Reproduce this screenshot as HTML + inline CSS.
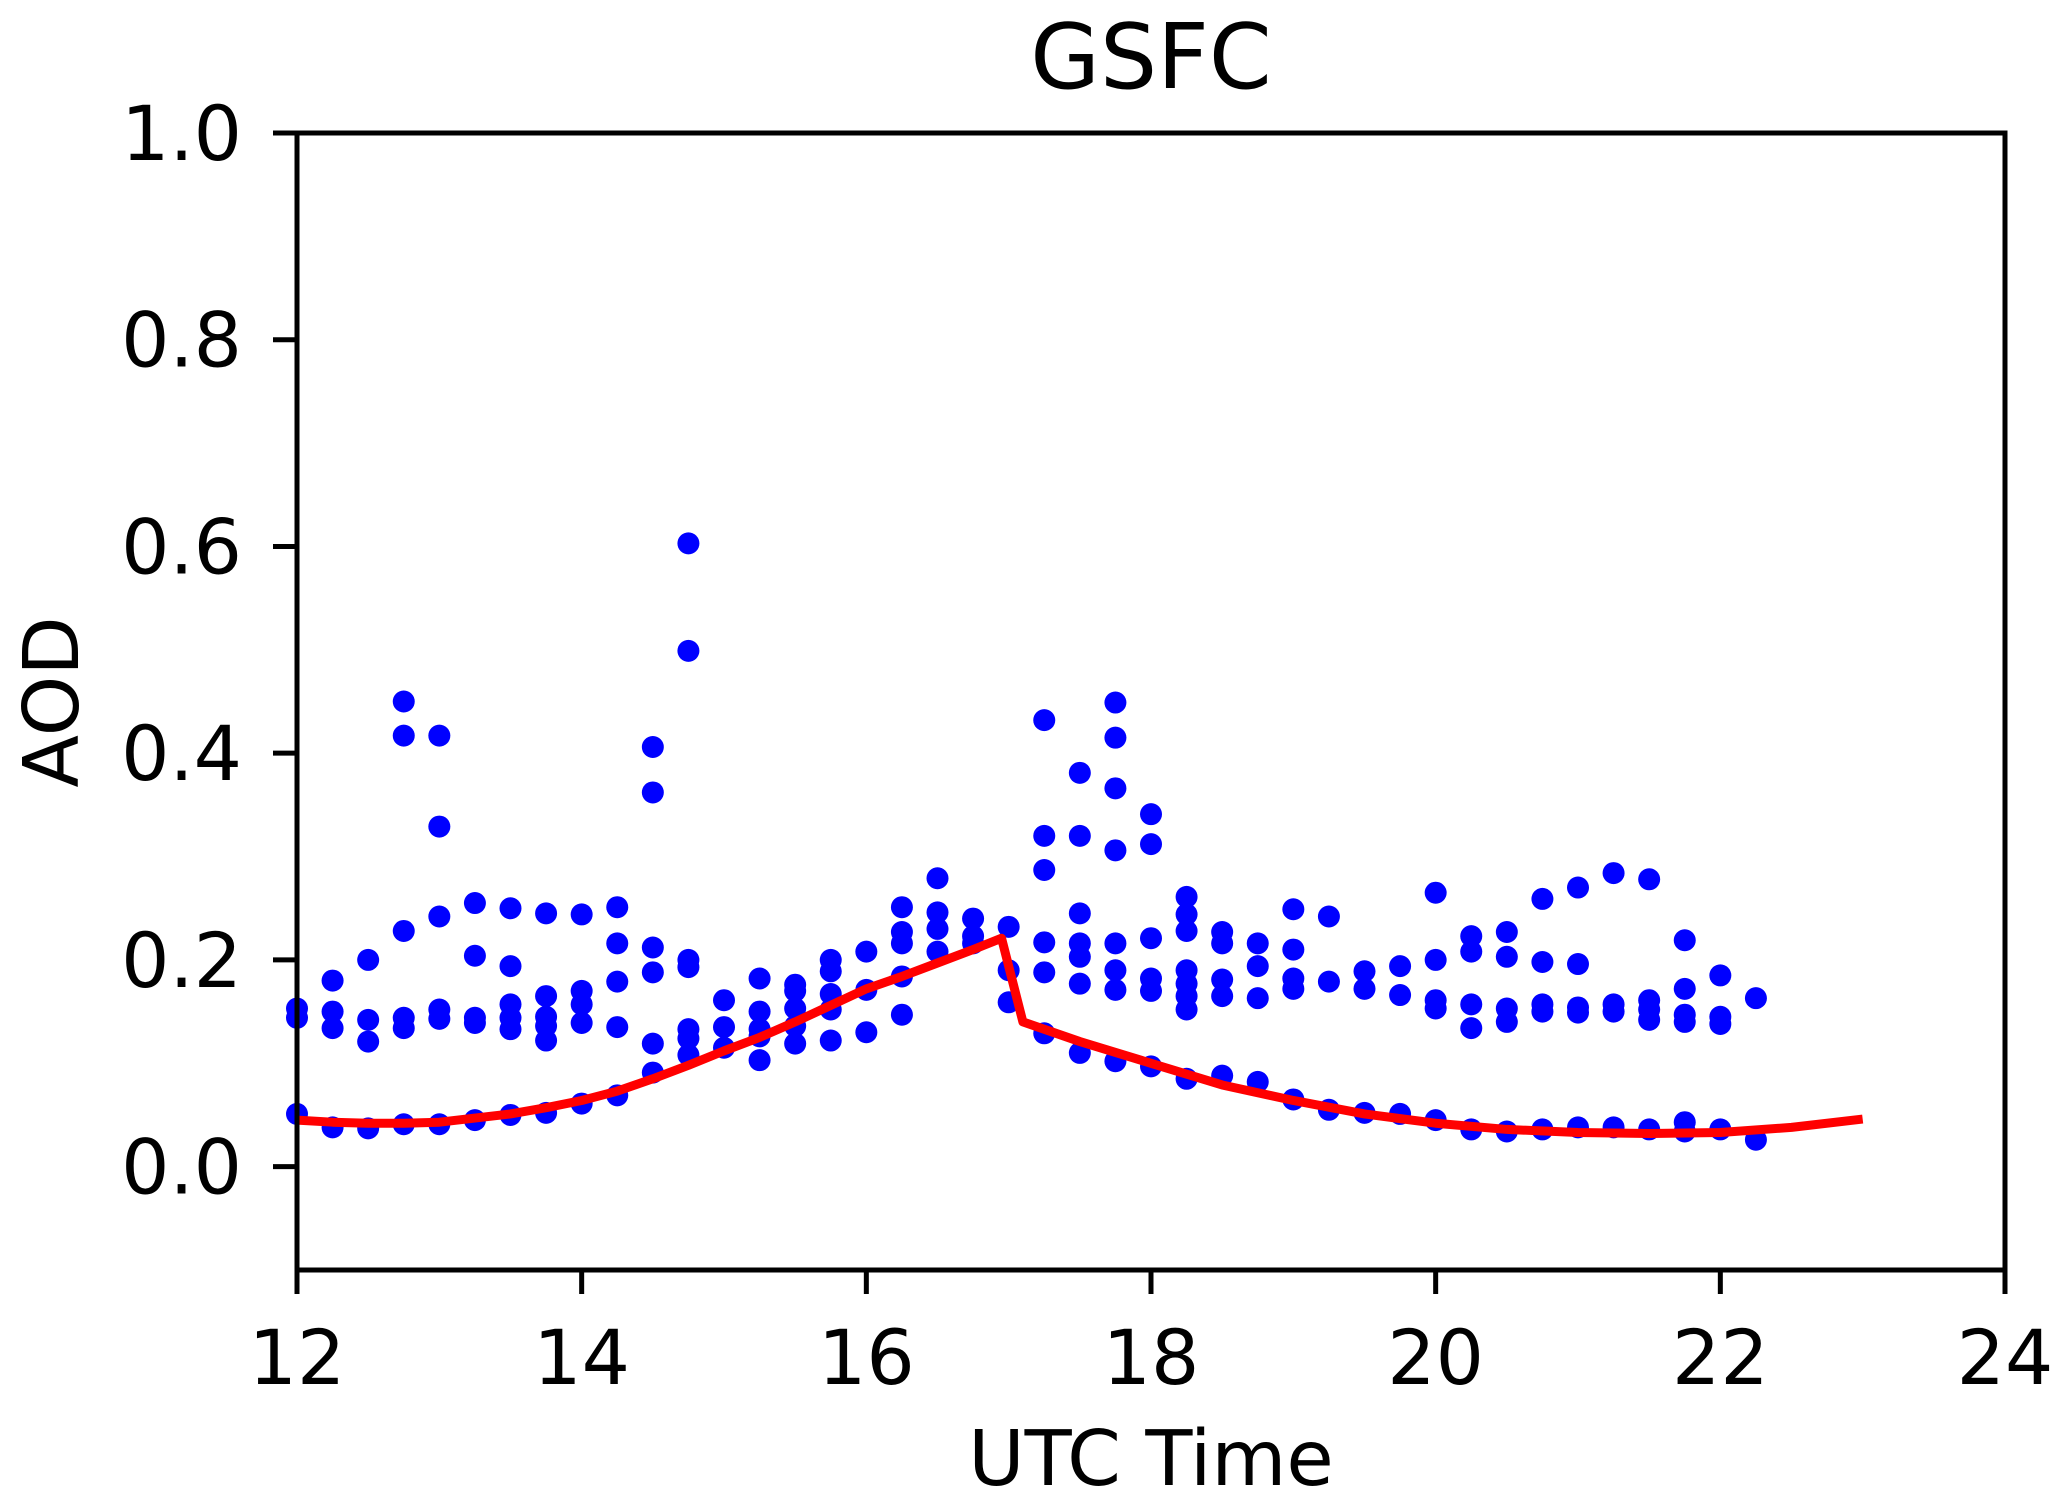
<!DOCTYPE html>
<html><head><meta charset="utf-8"><style>
html,body{margin:0;padding:0;background:#fff;}
svg{display:block;}
text{font-family:"DejaVu Sans","Liberation Sans",sans-serif;fill:#000;}
</style></head><body>
<svg id="chart" width="2067" height="1506" viewBox="0 0 2067 1506" xmlns="http://www.w3.org/2000/svg">
<text x="1151" y="88" font-size="90" text-anchor="middle">GSFC</text>
<g id="marks"></g>
<rect x="297" y="133" width="1708" height="1137" fill="none" stroke="#000" stroke-width="5"/>
<g id="axes"></g>
<text x="1151" y="1485" font-size="77" text-anchor="middle">UTC Time</text>
<text transform="translate(78,702) rotate(-90)" font-size="77" text-anchor="middle">AOD</text>
</svg>
<script>
const xTicks=[12,14,16,18,20,22,24];
const yTicks=[0.0,0.2,0.4,0.6,0.8,1.0];
const yTickLabels=["0.0","0.2","0.4","0.6","0.8","1.0"];
const obsTimes=[12.0,12.25,12.5,12.75,13.0,13.25,13.5,13.75,14.0,14.25,14.5,14.75,15.0,15.25,15.5,15.75,16.0,16.25,16.5,16.75,17.0,17.25,17.5,17.75,18.0,18.25,18.5,18.75,19.0,19.25,19.5,19.75,20.0,20.25,20.5,20.75,21.0,21.25,21.5,21.75,22.0,22.25];
const obsValues=[
[0.153,0.144,0.051],
[0.18,0.15,0.134,0.038],
[0.20,0.142,0.121,0.037],
[0.45,0.417,0.228,0.144,0.134,0.041],
[0.417,0.329,0.242,0.152,0.143,0.041],
[0.255,0.204,0.144,0.139,0.045],
[0.25,0.194,0.157,0.144,0.133,0.05],
[0.245,0.165,0.145,0.136,0.122,0.052],
[0.244,0.17,0.157,0.139,0.061],
[0.251,0.216,0.179,0.135,0.069],
[0.406,0.362,0.212,0.188,0.119,0.091],
[0.603,0.499,0.2,0.193,0.133,0.124,0.108],
[0.161,0.135,0.115],
[0.182,0.15,0.133,0.126,0.103],
[0.176,0.17,0.153,0.136,0.119],
[0.2,0.189,0.167,0.152,0.122],
[0.208,0.171,0.13],
[0.251,0.227,0.216,0.184,0.147],
[0.279,0.246,0.23,0.208],
[0.24,0.223,0.216],
[0.232,0.19,0.159],
[0.432,0.32,0.287,0.217,0.188,0.129],
[0.381,0.32,0.245,0.216,0.203,0.177,0.11],
[0.449,0.415,0.366,0.306,0.216,0.19,0.171,0.102],
[0.341,0.312,0.221,0.182,0.17,0.097],
[0.261,0.244,0.228,0.19,0.177,0.165,0.152,0.085],
[0.227,0.216,0.181,0.165,0.088],
[0.216,0.194,0.163,0.082],
[0.249,0.21,0.182,0.172,0.065],
[0.242,0.179,0.055],
[0.189,0.172,0.052],
[0.194,0.166,0.051],
[0.265,0.2,0.161,0.153,0.045],
[0.223,0.208,0.157,0.134,0.036],
[0.227,0.203,0.153,0.14,0.034],
[0.259,0.198,0.157,0.15,0.036],
[0.27,0.196,0.154,0.149,0.038],
[0.284,0.157,0.15,0.038],
[0.278,0.161,0.152,0.142,0.036],
[0.219,0.172,0.147,0.14,0.043,0.034],
[0.185,0.145,0.138,0.036],
[0.163,0.026]];
const fitTimes=[12,12.25,12.5,12.75,13,13.25,13.5,13.75,14,14.25,14.5,14.75,15,15.25,15.5,15.75,16,16.25,16.5,16.75,16.95,17.1,17.5,18,18.5,19,19.5,20,20.5,21,21.5,22,22.5,23];
const fitValues=[0.045,0.043,0.042,0.042,0.043,0.047,0.051,0.057,0.064,0.073,0.085,0.098,0.112,0.125,0.14,0.156,0.172,0.184,0.197,0.21,0.221,0.14,0.121,0.1,0.079,0.064,0.051,0.042,0.036,0.033,0.032,0.033,0.038,0.046];

const X0=297,X1=2005,Y0=1270,Y1=133,XMIN=12,XMAX=24,YMIN=-0.1,YMAX=1.0;
const sx=v=>X0+(v-XMIN)/(XMAX-XMIN)*(X1-X0);
const sy=v=>Y0-(v-YMIN)/(YMAX-YMIN)*(Y0-Y1);
const NS="http://www.w3.org/2000/svg";
const marks=document.getElementById('marks');
const axes=document.getElementById('axes');
obsTimes.forEach((t,i)=>{
  obsValues[i].forEach(v=>{
    const c=document.createElementNS(NS,'circle');
    c.setAttribute('cx',sx(t));c.setAttribute('cy',sy(v));c.setAttribute('r',11);c.setAttribute('fill','#0000ff');
    
    
    marks.appendChild(c);
  });
});
const pl=document.createElementNS(NS,'polyline');
pl.setAttribute('points',fitTimes.map((t,i)=>sx(t)+','+sy(fitValues[i])).join(' '));
pl.setAttribute('fill','none');pl.setAttribute('stroke','#ff0000');pl.setAttribute('stroke-width',9);pl.setAttribute('stroke-linejoin','round');


marks.appendChild(pl);
xTicks.forEach(t=>{
  const l=document.createElementNS(NS,'line');
  l.setAttribute('x1',sx(t));l.setAttribute('x2',sx(t));l.setAttribute('y1',Y0);l.setAttribute('y2',Y0+24);
  l.setAttribute('stroke','#000');l.setAttribute('stroke-width',5);
  
  
  axes.appendChild(l);
  const tx=document.createElementNS(NS,'text');
  tx.setAttribute('x',sx(t));tx.setAttribute('y',1384);tx.setAttribute('font-size',76);tx.setAttribute('text-anchor','middle');
  tx.textContent=String(t);
  
  
  axes.appendChild(tx);
});
yTicks.forEach((v,i)=>{
  const l=document.createElementNS(NS,'line');
  l.setAttribute('x1',X0-24);l.setAttribute('x2',X0);l.setAttribute('y1',sy(v));l.setAttribute('y2',sy(v));
  l.setAttribute('stroke','#000');l.setAttribute('stroke-width',5);
  
  
  axes.appendChild(l);
  const tx=document.createElementNS(NS,'text');
  tx.setAttribute('x',242);tx.setAttribute('y',sy(v)+27);tx.setAttribute('font-size',76);tx.setAttribute('text-anchor','end');
  tx.textContent=yTickLabels[i];
  
  
  axes.appendChild(tx);
});
</script>
</body></html>
